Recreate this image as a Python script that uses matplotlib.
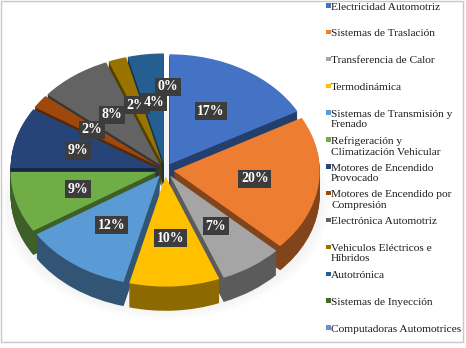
import matplotlib
matplotlib.use("Agg")
import matplotlib.pyplot as plt
import matplotlib.colors as mc
from matplotlib.patches import Rectangle, Ellipse
import numpy as np
import textwrap

categories = [
    "Electricidad Automotriz",
    "Sistemas de Traslación",
    "Transferencia de Calor",
    "Termodinámica",
    "Sistemas de Transmisión y Frenado",
    "Refrigeración y Climatización Vehicular",
    "Motores de Encendido Provocado",
    "Motores de Encendido por Compresión",
    "Electrónica Automotriz",
    "Vehiculos Eléctricos e Híbridos",
    "Autotrónica",
    "Sistemas de Inyección",
    "Computadoras Automotrices",
]
values = [17, 20, 7, 10, 12, 9, 9, 2, 8, 2, 4, 0, 0]
colors = ["#4472C4", "#ED7D31", "#A5A5A5", "#FFC000", "#5B9BD5", "#70AD47",
          "#264478", "#9E480E", "#636363", "#997300", "#255E91", "#43682B",
          "#698ED0"]

W, H = 466, 348
fig = plt.figure(figsize=(W / 100, H / 100), dpi=100)
fig.patch.set_facecolor("white")

# outer border
fig.patches.append(Rectangle((0.5 / W, 6 / H), 462.5 / W, 341.5 / H,
                             transform=fig.transFigure, fill=False,
                             edgecolor="#c8c8c8", linewidth=1.0))

rx, ry = 146.0, 110.0
cx, cy = 165.0, 178.0
x0, x1 = -1.13, 1.13
y0, y1 = -1.5, 1.25
ax = fig.add_axes([(cx + x0 * rx) / W, (cy + y0 * ry) / H,
                   (x1 - x0) * rx / W, (y1 - y0) * ry / H])

explode = [0.06] * len(values)
dark = [tuple(np.array(mc.to_rgb(c)) * 0.55) for c in colors]

# soft shadow
for k, a in enumerate([0.05, 0.05, 0.05]):
    ax.add_patch(Ellipse((0.0, -0.3), 2.25 - 0.06 * k, 2.1 - 0.06 * k,
                         facecolor="#bdbdbd", alpha=a, edgecolor="none",
                         zorder=0))

depth = 0.22
for d in np.linspace(depth, 0.0, 24)[:-1]:
    ax.pie(values, explode=explode, colors=dark, startangle=90,
           counterclock=False, center=(0, -d),
           wedgeprops=dict(linewidth=0))

wedges, texts, autotexts = ax.pie(
    values, explode=explode, colors=colors, startangle=90,
    counterclock=False, center=(0, 0), autopct="%.0f%%",
    pctdistance=0.56, wedgeprops=dict(linewidth=0),
    textprops=dict(color="white", fontweight="bold",
                   family="Liberation Serif", fontsize=10))

for v, t in zip(values, autotexts):
    t.set_bbox(dict(boxstyle="square,pad=0.18", facecolor="#3c3c3c",
                    edgecolor="none"))
    if v == 0:
        x, y = t.get_position()
        t.set_position((x * 1.22 + 0.02, y * 1.22))
    t.set_zorder(10)

ax.set_aspect("auto")
ax.set_xlim(x0, x1)
ax.set_ylim(y0, y1)
ax.axis("off")

# legend
step = 26.85
for i, (cat, col) in enumerate(zip(categories, colors)):
    yc = 6.5 + i * step
    fig.patches.append(Rectangle((326 / W, 1 - (yc + 1.0) / H), 4.5 / W, 4.5 / H,
                                 transform=fig.transFigure, facecolor=col,
                                 edgecolor="none"))
    fig.text(331 / W, 1 - (yc - 4.0) / H, textwrap.fill(cat, 25),
             family="Liberation Serif", fontsize=8.2, color="#1a1a1a",
             va="top", ha="left", linespacing=1.18)

fig.savefig("out.png", dpi=100)
